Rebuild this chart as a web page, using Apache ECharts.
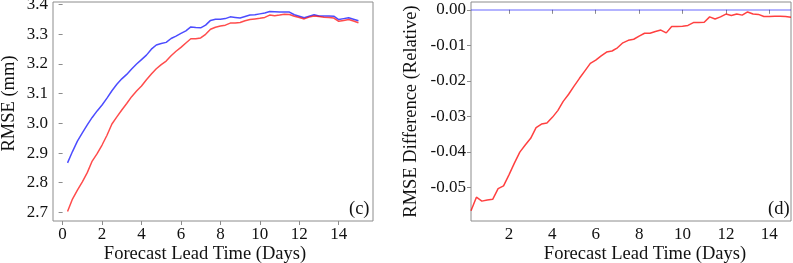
<!DOCTYPE html>
<html>
<head>
<meta charset="utf-8">
<script src="https://cdn.jsdelivr.net/npm/echarts@6/dist/echarts.min.js"></script>
<style>html,body{margin:0;padding:0;background:#fff}#c{width:793px;height:263px}</style>
</head>
<body>
<div id="c"></div>
<script>
var leadTimes = [0.25,0.5,0.75,1.0,1.25,1.5,1.75,2.0,2.25,2.5,2.75,3.0,3.25,3.5,3.75,4.0,4.25,4.5,4.75,5.0,
  5.25,5.5,5.75,6.0,6.25,6.5,6.75,7.0,7.25,7.5,7.75,8.0,8.25,8.5,8.75,9.0,9.25,9.5,9.75,10.0,
  10.25,10.5,10.75,11.0,11.25,11.5,11.75,12.0,12.25,12.5,12.75,13.0,13.25,13.5,13.75,14.0,14.25,14.5,14.75,15.0];

var rmseBlue = [2.867,2.905,2.940,2.968,2.995,3.020,3.042,3.062,3.085,3.110,3.132,3.150,3.165,3.183,3.200,3.215,3.230,3.250,3.264,3.269,
  3.273,3.286,3.294,3.303,3.312,3.325,3.323,3.322,3.331,3.347,3.351,3.351,3.353,3.359,3.357,3.355,3.360,3.365,3.366,3.369,
  3.372,3.377,3.376,3.375,3.375,3.375,3.366,3.361,3.356,3.361,3.366,3.362,3.362,3.362,3.361,3.350,3.353,3.356,3.351,3.346];

var rmseRed = [2.703,2.745,2.775,2.803,2.834,2.873,2.898,2.927,2.960,2.998,3.022,3.045,3.067,3.090,3.109,3.126,3.147,3.166,3.184,3.198,
  3.210,3.228,3.243,3.256,3.271,3.285,3.285,3.288,3.300,3.317,3.324,3.328,3.331,3.338,3.338,3.340,3.346,3.350,3.352,3.354,
  3.357,3.365,3.363,3.365,3.368,3.367,3.361,3.357,3.352,3.358,3.362,3.360,3.358,3.357,3.355,3.344,3.347,3.350,3.345,3.339];

var relDiff = [-0.0566,-0.0528,-0.0539,-0.0536,-0.0534,-0.0504,-0.0496,-0.0465,-0.0432,-0.0401,-0.0381,-0.0362,-0.0332,-0.0322,-0.0319,-0.0303,-0.0284,-0.0258,-0.0238,-0.0215,
  -0.0193,-0.0172,-0.0151,-0.0142,-0.0130,-0.0119,-0.0116,-0.0107,-0.0093,-0.0086,-0.0083,-0.0074,-0.0066,-0.0066,-0.0061,-0.0057,-0.0065,-0.0047,-0.0047,-0.0046,
  -0.0044,-0.0036,-0.0036,-0.0035,-0.0020,-0.0026,-0.0020,-0.0012,-0.0016,-0.0012,-0.0015,-0.0006,-0.0012,-0.0013,-0.0019,-0.0019,-0.0018,-0.0018,-0.0019,-0.0021];

var zeroLevel = 0;
var xTicksLeft = [0,2,4,6,8,10,12,14];
var xTicksRight = [2,4,6,8,10,12,14];
var yTicksLeft = [2.7,2.8,2.9,3.0,3.1,3.2,3.3,3.4];
var yTicksRight = [-0.05,-0.04,-0.03,-0.02,-0.01,0.00];

function pairs(xs, ys){ return xs.map(function(x,i){ return [x, ys[i]]; }); }

var FONT = "'Liberation Serif','Times New Roman',serif";
var GREY = '#8c8c8c';
var TXT = '#111';

function xAxisCfg(gi, min, max, ticks, pad){
  return {
    type:'value', gridIndex:gi, min:min, max:max,
    name:'Forecast Lead Time (Days)', nameLocation:'middle', nameGap:24, nameMoveOverlap:false,
    nameTextStyle:{fontFamily:FONT, fontSize:18.5, color:TXT, padding:pad},
    axisLine:{show:false}, splitLine:{show:false},
    axisTick:{show:true, inside:false, length:4, lineStyle:{color:GREY}, customValues:ticks},
    axisLabel:{fontFamily:FONT, fontSize:17, color:TXT, margin:5, customValues:ticks,
      formatter:function(v){ return String(Math.round(v)); }}
  };
}
function yAxisCfg(gi, min, max, ticks, name, gap, pad, fmt){
  return {
    type:'value', gridIndex:gi, min:min, max:max,
    name:name, nameLocation:'middle', nameGap:gap, nameRotate:90, nameMoveOverlap:false,
    nameTextStyle:{fontFamily:FONT, fontSize:18.5, color:TXT, padding:pad},
    axisLine:{show:false}, splitLine:{show:false},
    axisTick:{show:true, inside:false, length:4, lineStyle:{color:GREY}, customValues:ticks},
    axisLabel:{fontFamily:FONT, fontSize:17, color:TXT, margin:5, customValues:ticks, formatter:fmt}
  };
}

var chart = echarts.init(document.getElementById('c'), null, {renderer:'canvas'});
chart.setOption({
  animation:false,
  backgroundColor:'#fff',
  grid:[
    {left:53, right:420, top:2, bottom:42, show:true, borderColor:GREY, borderWidth:1, backgroundColor:'transparent',
      containLabel:false, outerBoundsMode:'none'},
    {left:471, right:2, top:2, bottom:42, show:true, borderColor:GREY, borderWidth:1, backgroundColor:'transparent',
      containLabel:false, outerBoundsMode:'none'}
  ],
  xAxis:[
    xAxisCfg(0, -0.4875, 15.7375, xTicksLeft, [0,16,0,0]),
    xAxisCfg(1, 0.25, 15, xTicksRight, [0,0,0,28])
  ],
  yAxis:[
    yAxisCfg(0, 2.671, 3.409, yTicksLeft, 'RMSE (mm)', 34, [0,0,0,16], function(v){ return v.toFixed(1); }),
    yAxisCfg(1, -0.0595, 0.0022, yTicksRight, 'RMSE Difference (Relative)', 50, [0,0,0,0], function(v){ return v.toFixed(2); })
  ],
  title:[
    {text:'(c)', left:344, top:195, textStyle:{fontFamily:FONT, fontSize:18.5, fontWeight:'normal', color:TXT}},
    {text:'(d)', left:763, top:195, textStyle:{fontFamily:FONT, fontSize:18.5, fontWeight:'normal', color:TXT}}
  ],
  series:[
    {type:'line', xAxisIndex:0, yAxisIndex:0, data:pairs(leadTimes, rmseBlue), showSymbol:false,
      lineStyle:{color:'rgba(0,0,255,0.7)', width:1.5}},
    {type:'line', xAxisIndex:0, yAxisIndex:0, data:pairs(leadTimes, rmseRed), showSymbol:false,
      lineStyle:{color:'rgba(255,0,0,0.7)', width:1.5}},
    {type:'line', xAxisIndex:1, yAxisIndex:1, data:pairs(leadTimes, relDiff), showSymbol:false,
      lineStyle:{color:'rgba(255,0,0,0.75)', width:1.5},
      markLine:{silent:true, symbol:'none', label:{show:false}, animation:false,
        lineStyle:{color:'rgba(0,0,255,0.4)', width:1.5, type:'solid'},
        data:[{yAxis:zeroLevel}]}}
  ]
});
</script>
</body>
</html>
